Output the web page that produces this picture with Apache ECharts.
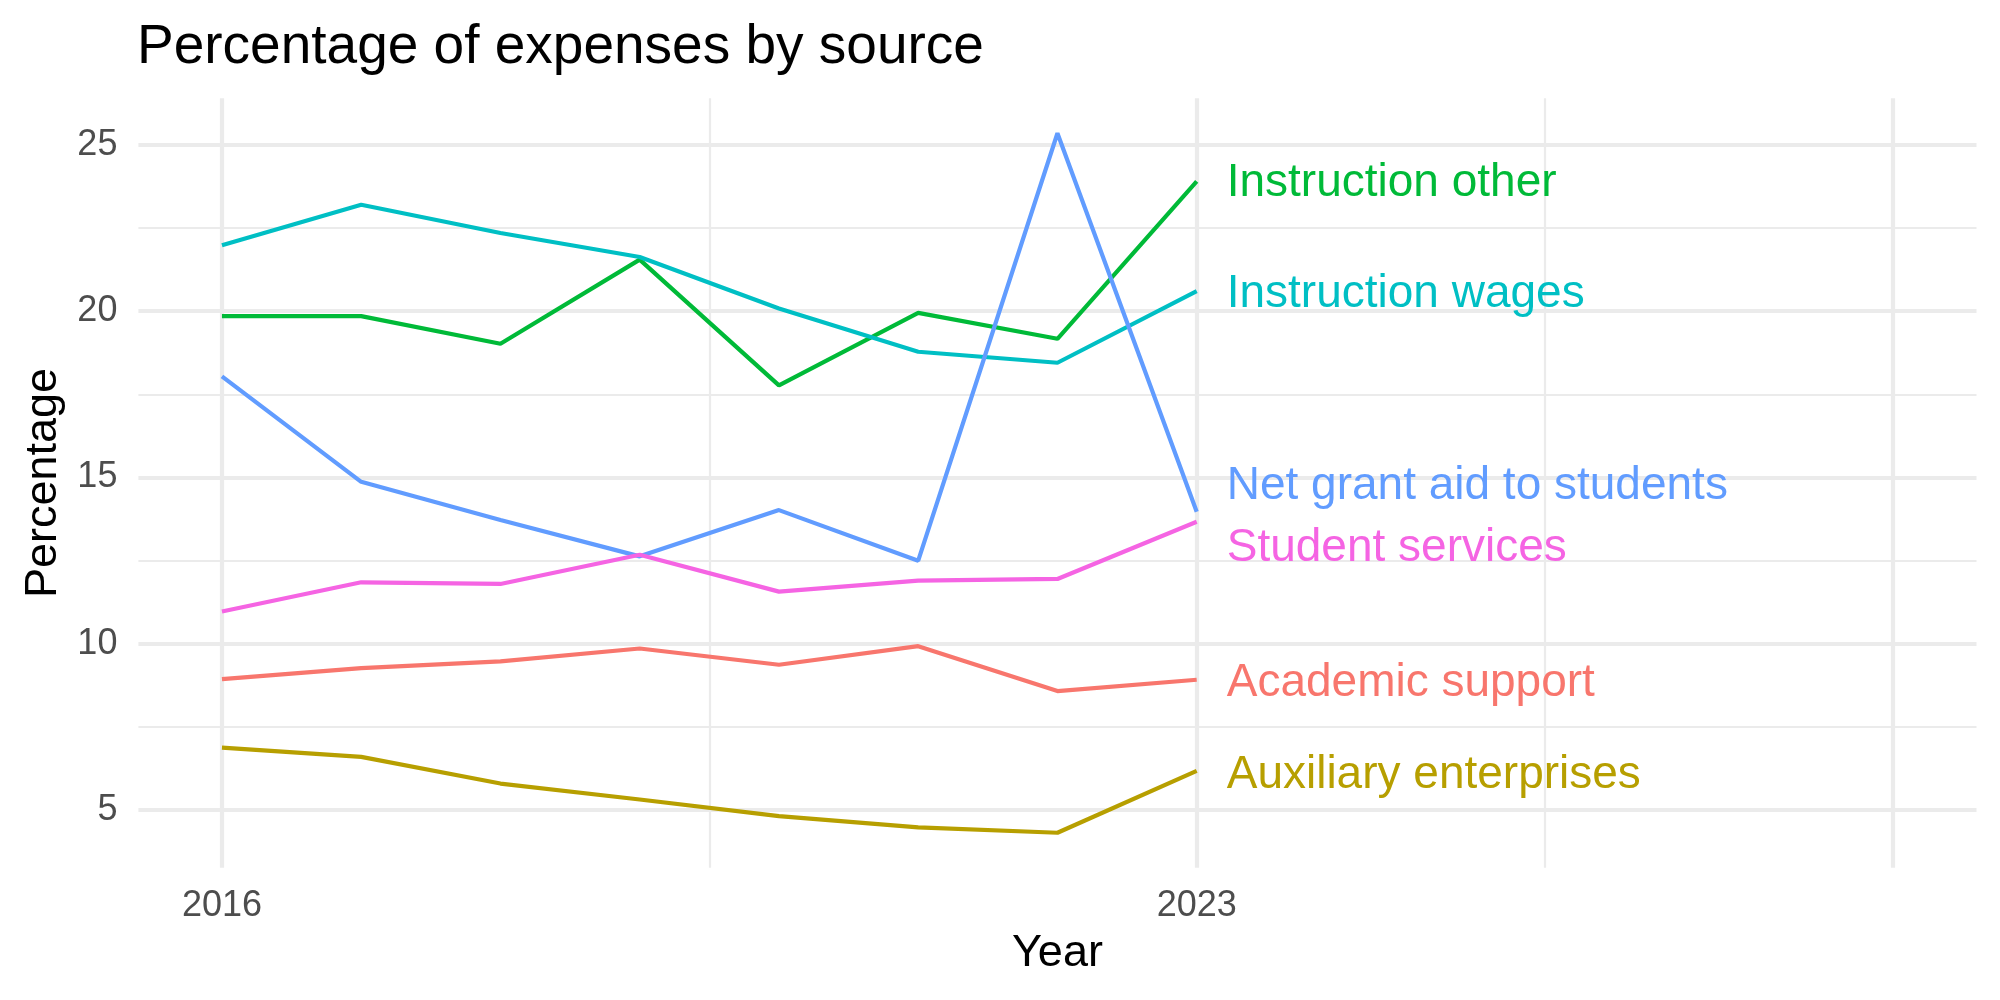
<!DOCTYPE html>
<html>
<head>
<meta charset="utf-8">
<script src="https://cdn.jsdelivr.net/npm/echarts@6/dist/echarts.min.js"></script>
<style>
  html, body { margin: 0; padding: 0; background: #fff; }
  #main { width: 2000px; height: 1000px; }
</style>
</head>
<body>
<div id="main"></div>
<script>
// data
const years = [2016, 2017, 2018, 2019, 2020, 2021, 2022, 2023];
const academicSupport = [8.94, 9.27, 9.47, 9.86, 9.37, 9.93, 8.58, 8.92];
const auxiliaryEnterprises = [6.88, 6.6, 5.8, 5.32, 4.82, 4.48, 4.32, 6.18];
const instructionOther = [19.85, 19.85, 19.02, 21.55, 17.77, 19.95, 19.17, 23.9];
const instructionWages = [21.98, 23.2, 22.35, 21.63, 20.08, 18.78, 18.45, 20.6];
const netGrantAid = [18.04, 14.87, 13.72, 12.63, 14.02, 12.5, 25.35, 13.97];
const studentServices = [10.97, 11.85, 11.8, 12.68, 11.57, 11.9, 11.95, 13.67];

// axis breaks
const xBreaks = [2016, 2023, 2028];
const xMinorBreaks = [2019.5, 2025.5];
const xTickLabels = [2016, 2023];
const yBreaks = [5, 10, 15, 20, 25];
const yMinorBreaks = [7.5, 12.5, 17.5, 22.5];

const FONT = "Liberation Sans";
const GRID = "#EBEBEB";

const seriesDefs = [
  { name: "Academic support", values: academicSupport, color: "#F8766D", dy: 4 },
  { name: "Auxiliary enterprises", values: auxiliaryEnterprises, color: "#B79F00", dy: 4 },
  { name: "Instruction other", values: instructionOther, color: "#00BA38", dy: 2 },
  { name: "Instruction wages", values: instructionWages, color: "#00BFC4", dy: 3 },
  { name: "Net grant aid to students", values: netGrantAid, color: "#619CFF", dy: -25 },
  { name: "Student services", values: studentServices, color: "#F564E3", dy: 27 }
];

const myChart = echarts.init(document.getElementById("main"));

// grid lines drawn as mark lines on an empty series, kept under the data
const gridSeries = {
  type: "line",
  data: [],
  z: 1,
  silent: true,
  markLine: {
    silent: true,
    z: 1,
    symbol: "none",
    animation: false,
    label: { show: false },
    emphasis: { disabled: true },
    data: [
      ...xMinorBreaks.map(v => ({ xAxis: v, lineStyle: { color: GRID, width: 2.2, type: "solid" } })),
      ...yMinorBreaks.map(v => ({ yAxis: v, lineStyle: { color: GRID, width: 2.2, type: "solid" } })),
      ...xBreaks.map(v => ({ xAxis: v, lineStyle: { color: GRID, width: 4.2, type: "solid" } })),
      ...yBreaks.map(v => ({ yAxis: v, lineStyle: { color: GRID, width: 4.2, type: "solid" } }))
    ]
  }
};

const lineSeries = seriesDefs.map(s => ({
  name: s.name,
  type: "line",
  z: 10,
  showSymbol: false,
  data: years.map((y, i) => [y, s.values[i]]),
  lineStyle: { color: s.color, width: 4.2 },
  itemStyle: { color: s.color },
  endLabel: {
    show: true,
    formatter: "{a}",
    color: s.color,
    fontFamily: FONT,
    fontSize: 46,
    distance: 30,
    offset: [0, s.dy]
  }
}));

const option = {
  animation: false,
  backgroundColor: "#fff",
  title: {
    text: "Percentage of expenses by source",
    left: 137,
    top: 20,
    padding: 0,
    textStyle: { color: "#000", fontFamily: FONT, fontSize: 55, fontWeight: "normal" }
  },
  grid: { left: 138.4, right: 23.5, top: 98.3, bottom: 132.3, containLabel: false },
  xAxis: {
    type: "value",
    min: 2015.4,
    max: 2028.6,
    name: "Year",
    nameLocation: "middle",
    nameGap: 63,
    nameTextStyle: { color: "#000", fontFamily: FONT, fontSize: 45 },
    axisLine: { show: false },
    axisTick: { show: false },
    splitLine: { show: false },
    axisLabel: {
      customValues: xTickLabels,
      formatter: v => String(v),
      color: "#4D4D4D",
      fontFamily: FONT,
      fontSize: 36,
      margin: 20
    }
  },
  yAxis: {
    type: "value",
    min: 3.27,
    max: 26.4,
    name: "Percentage",
    nameLocation: "middle",
    nameRotate: 90,
    nameGap: 72,
    nameTextStyle: { color: "#000", fontFamily: FONT, fontSize: 45 },
    axisLine: { show: false },
    axisTick: { show: false },
    splitLine: { show: false },
    axisLabel: {
      customValues: yBreaks,
      formatter: v => String(v),
      color: "#4D4D4D",
      fontFamily: FONT,
      fontSize: 36,
      margin: 21
    }
  },
  series: [gridSeries, ...lineSeries]
};

option && myChart.setOption(option);
</script>
</body>
</html>
